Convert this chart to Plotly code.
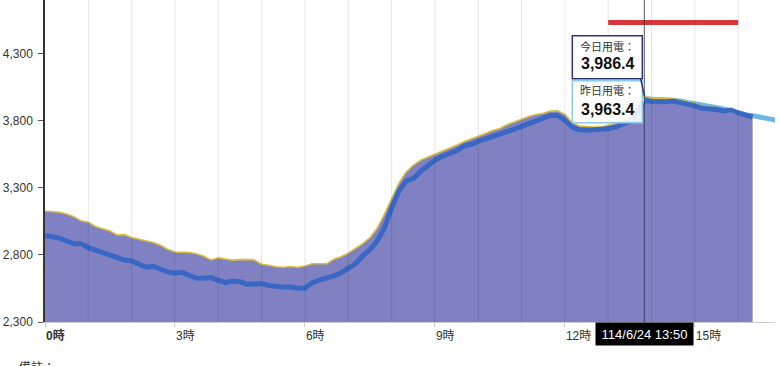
import plotly.graph_objects as go

# ---------------- data ----------------
today_minutes = list(range(0, 990, 10))          # 0:00 .. 16:20, every 10 min
today_load = [3127, 3123, 3118, 3105, 3085, 3054, 3044, 3012, 2995, 2978,
              2949, 2951, 2930, 2916, 2903, 2892, 2872, 2843, 2822, 2822,
              2818, 2809, 2790, 2762, 2779, 2770, 2761, 2765, 2767, 2762,
              2730, 2723, 2712, 2708, 2714, 2708, 2717, 2734, 2735, 2735,
              2767, 2787, 2813, 2847, 2884, 2928, 2998, 3103, 3214, 3334,
              3416, 3468, 3505, 3527, 3547, 3568, 3590, 3617, 3644, 3664,
              3680, 3705, 3727, 3743, 3770, 3792, 3815, 3832, 3846, 3856,
              3872, 3874, 3848, 3788, 3761, 3756, 3753, 3753, 3767, 3782,
              3803, 3825, 3893, 3986.4, 3967, 3969, 3970, 3965, 3956, 3942,
              3928, 3910, 3904, 3894, 3876, 3862, 3849, 3836, 3820]
second_load = [2946, 2939, 2925, 2904, 2884, 2884, 2854, 2836, 2818, 2795,
               2777, 2762, 2755, 2734, 2708, 2715, 2690, 2673, 2663, 2670,
               2647, 2627, 2626, 2631, 2613, 2594, 2605, 2601, 2581, 2584,
               2586, 2571, 2564, 2561, 2561, 2552, 2553, 2592, 2613, 2626,
               2643, 2666, 2695, 2734, 2793, 2839, 2903, 3000, 3147, 3275,
               3351, 3369, 3422, 3467, 3505, 3535, 3557, 3576, 3612, 3624,
               3646, 3663, 3678, 3697, 3717, 3737, 3758, 3778, 3801, 3828,
               3840, 3840, 3803, 3753, 3732, 3730, 3731, 3734, 3741, 3752,
               3774, 3796, 3863, 3952, 3943, 3940, 3942, 3947, 3936, 3925,
               3911, 3893, 3890, 3884, 3873, 3880, 3858, 3842, 3827]
yesterday_minutes = list(range(830, 1030, 10))   # 13:50 .. 17:00
yesterday_load = [3963.4, 3960, 3957, 3957, 3957, 3948, 3937, 3927, 3917, 3912,
                  3905, 3888, 3874, 3857, 3845, 3838, 3828, 3825, 3807, 3784]
peak_minutes = [780, 960]
peak_level = [4533, 4533]

x_tick_hours = [0, 3, 6, 9, 12, 15]
x_tick_labels = ["<b>0時</b>", "3時", "6時", "9時", "12時", "15時"]
y_ticks = [2300, 2800, 3300, 3800, 4300]
hover_minute = 830
hover_stamp = "114/6/24 13:50"
label_today = "今日用電："
label_yesterday = "昨日用電："
note_text = "備註："


def hrs(ms):
    return [m / 60 for m in ms]


FONT = "Liberation Sans, Noto Sans CJK TC, sans-serif"

fig = go.Figure()
fig.add_trace(go.Scatter(x=hrs(yesterday_minutes), y=yesterday_load, mode="lines",
                         line=dict(color="#6DB8E0", width=5), hoverinfo="skip"))
fig.add_trace(go.Scatter(x=hrs(today_minutes), y=today_load, mode="lines",
                         fill="tozeroy", fillcolor="#7F81C3",
                         line=dict(color="#D9BF3E", width=1.6), hoverinfo="skip"))
fig.add_trace(go.Scatter(x=hrs(today_minutes), y=second_load, mode="lines",
                         line=dict(color="#3A67C4", width=5), hoverinfo="skip"))
fig.add_trace(go.Scatter(x=hrs(peak_minutes), y=peak_level, mode="lines",
                         line=dict(color="#D8363C", width=5), hoverinfo="skip"))

shapes = []
for h in range(1, 17):
    shapes.append(dict(type="line", xref="x", yref="paper", x0=h, x1=h, y0=0, y1=1,
                       line=dict(color="rgba(0,0,0,0.10)", width=1), layer="above"))

hx = hover_minute / 60
ty = today_load[today_minutes.index(hover_minute)]
yy = yesterday_load[yesterday_minutes.index(hover_minute)]

shapes.append(dict(type="line", xref="x", yref="paper", x0=hx, x1=hx, y0=0, y1=1,
                   line=dict(color="rgba(45,45,70,0.8)", width=1), layer="above"))
# yesterday tooltip
shapes.append(dict(type="path", xref="x", yref="y", xsizemode="pixel", ysizemode="pixel",
                   xanchor=hx, yanchor=yy, path="M -3,-14 L 0,0 L -3,4 Z",
                   fillcolor="rgba(232,242,250,0.9)", line=dict(width=0), layer="above"))
shapes.append(dict(type="rect", xref="x", yref="y", xsizemode="pixel", ysizemode="pixel",
                   xanchor=hx, yanchor=yy, x0=-72, x1=-2, y0=-24, y1=18,
                   fillcolor="rgba(255,255,255,0.88)", line=dict(color="#8CCBE8", width=1.5),
                   layer="above"))
# today tooltip
shapes.append(dict(type="line", xref="x", yref="y", xsizemode="pixel", ysizemode="pixel",
                   xanchor=hx, yanchor=ty, x0=-4, y0=19, x1=0, y1=0,
                   line=dict(color="#2E3470", width=1.5), layer="above"))
shapes.append(dict(type="rect", xref="x", yref="y", xsizemode="pixel", ysizemode="pixel",
                   xanchor=hx, yanchor=ty, x0=-72, x1=-2, y0=17, y1=60,
                   fillcolor="white", line=dict(color="#2E3470", width=1.5), layer="above"))

annotations = [
    dict(x=hx, y=ty, xref="x", yref="y", text=label_today, showarrow=False,
         xshift=-37, yshift=49, font=dict(size=11, color="#333", family=FONT)),
    dict(x=hx, y=ty, xref="x", yref="y", text=f"<b>{ty:,.1f}</b>", showarrow=False,
         xshift=-37, yshift=32, font=dict(size=16, color="#111", family=FONT)),
    dict(x=hx, y=yy, xref="x", yref="y", text=label_yesterday, showarrow=False,
         xshift=-37, yshift=8, font=dict(size=11, color="#333", family=FONT)),
    dict(x=hx, y=yy, xref="x", yref="y", text=f"<b>{yy:,.1f}</b>", showarrow=False,
         xshift=-37, yshift=-11, font=dict(size=16, color="#111", family=FONT)),
    dict(x=hx, y=0, xref="x", yref="paper", yanchor="top", text=hover_stamp,
         showarrow=False, bgcolor="black", width=93, height=18, borderpad=2,
         font=dict(size=13, color="white", family=FONT)),
    dict(x=-0.038, y=-0.112, xref="paper", yref="paper", xanchor="left", yanchor="top",
         text=note_text, showarrow=False, font=dict(size=12, color="#333", family=FONT)),
]

fig.update_layout(
    width=780, height=366,
    margin=dict(l=45, r=5, t=0, b=44, autoexpand=False),
    paper_bgcolor="white", plot_bgcolor="white",
    showlegend=False,
    font=dict(family=FONT, size=12, color="#333"),
    shapes=shapes, annotations=annotations,
    xaxis=dict(range=[0, 16.85], tickvals=x_tick_hours, ticktext=x_tick_labels,
               ticklabelposition="outside right", ticklabelstandoff=3,
               showgrid=False, zeroline=False, automargin=False,
               showline=True, linecolor="#cccccc", linewidth=1,
               ticks="outside", ticklen=4, tickcolor="#cccccc",
               tickfont=dict(size=12, color="#333", family=FONT)),
    yaxis=dict(range=[2300, 4700], tickvals=y_ticks, tickformat=",",
               automargin=False, ticklabelstandoff=3,
               showgrid=False, zeroline=False, showline=True, linecolor="#333",
               linewidth=1.5, ticks="outside", ticklen=5, tickcolor="#555",
               tickfont=dict(size=12, color="#333", family=FONT)),
)

fig.write_html("out.html",
               config={"displayModeBar": False},
               post_script="document.body.style.margin='0';document.body.style.overflow='hidden';")
